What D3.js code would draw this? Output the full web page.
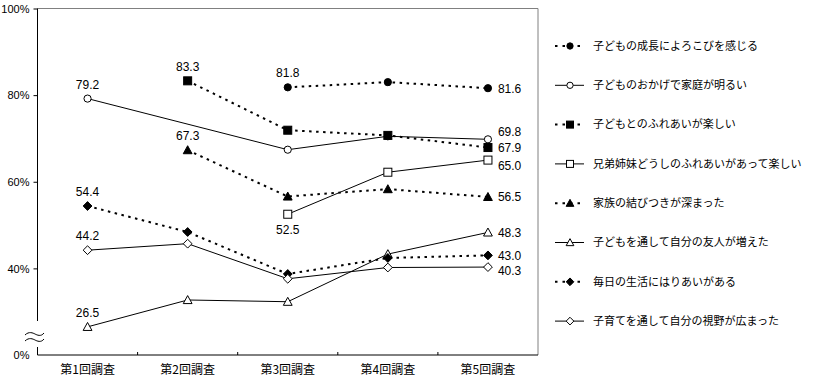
<!DOCTYPE html>
<html><head><meta charset="utf-8">
<script src="https://cdn.jsdelivr.net/npm/d3@7"></script>
<style>
body{margin:0;background:#fff;}
text{font-family:"Noto Sans CJK JP","Noto Sans",sans-serif;fill:#000;}
.num{font-family:"Liberation Sans","DejaVu Sans",sans-serif;}
</style></head>
<body><svg id="chart" width="815" height="380"></svg>
<script>
const categories = ["第1回調査","第2回調査","第3回調査","第4回調査","第5回調査"];
const seriesNames = [
  "子どもの成長によろこびを感じる",
  "子どものおかげで家庭が明るい",
  "子どもとのふれあいが楽しい",
  "兄弟姉妹どうしのふれあいがあって楽しい",
  "家族の結びつきが深まった",
  "子どもを通して自分の友人が増えた",
  "毎日の生活にはりあいがある",
  "子育てを通して自分の視野が広まった"
];
const growthJoy     = [null, null, 81.8, 83.0, 81.6];
const brightHome    = [79.2, null, 67.4, 70.5, 69.8];
const contactFun    = [null, 83.3, 71.9, 70.7, 67.9];
const siblingsFun   = [null, null, 52.5, 62.2, 65.0];
const familyBond    = [null, 67.3, 56.6, 58.3, 56.5];
const moreFriends   = [26.5, 32.7, 32.3, 43.3, 48.3];
const dailyPurpose  = [54.4, 48.4, 38.7, 42.4, 43.0];
const widerView     = [44.2, 45.7, 37.6, 40.2, 40.3];
const seriesValues = [growthJoy, brightHome, contactFun, siblingsFun, familyBond, moreFriends, dailyPurpose, widerView];
const yTickValues = [40, 60, 80, 100];
const yTickLabels = ["40%", "60%", "80%", "100%"];
const yBaseLabel = "0%";

// styles (kept separate from data)
const markerShapes = ["circle","circle","square","square","triangle","triangle","diamond","diamond"];
const markerFilled = [true,false,true,false,true,false,true,false];
const dashed = [true,false,true,false,true,false,true,false];
const firstLabelBelow = [false,false,false,true,false,false,false,false];
const lastLabelDy = [1,-8,0,6,0,0,0,4];

const svg = d3.select("#chart");
const L = 37.5, R = 538, T = 8.5, B = 355;
const x = d3.scaleBand().domain(categories).range([L, R]);
const y = d3.scaleLinear().domain([20, 100]).range([B, T]);
const cx = c => x(c) + x.bandwidth()/2;

// frame: top & right gray
svg.append("line").attr("x1",L).attr("x2",R).attr("y1",T).attr("y2",T).attr("stroke","#808080");
svg.append("line").attr("x1",R).attr("x2",R).attr("y1",T).attr("y2",B).attr("stroke","#808080");

// y axis
const yAxis = d3.axisLeft(y).tickValues(yTickValues).tickSize(4)
  .tickFormat((d,i)=>yTickLabels[i]);
const gy = svg.append("g").attr("transform",`translate(${L},0)`).call(yAxis);
gy.select(".domain").remove();
gy.selectAll("line").attr("stroke","#000");
gy.selectAll("text").attr("class","num").attr("font-size",11).attr("x",-8).attr("dy","0.35em")
  .style("font-family",'"Liberation Sans",sans-serif');
svg.append("text").attr("class","num").attr("x",L-8).attr("y",y(20)).attr("dy","0.35em").attr("text-anchor","end")
  .attr("font-size",11).text(yBaseLabel);
// axis line with break
svg.append("line").attr("x1",L).attr("x2",L).attr("y1",T).attr("y2",321).attr("stroke","#000");
svg.append("line").attr("x1",L).attr("x2",L).attr("y1",347).attr("y2",B).attr("stroke","#000");
[334, 340].forEach(yy=>{
  svg.append("path").attr("d",`M25,${yy+1} C29,${yy-3} 33,${yy-1} 35,${yy} S41,${yy+3} 44,${yy-1}`)
    .attr("fill","none").attr("stroke","#000").attr("stroke-width",1);
});

// x axis
const xAxis = d3.axisBottom(x).tickSize(0).tickPadding(10);
const gx = svg.append("g").attr("transform",`translate(0,${B})`).call(xAxis);
gx.select(".domain").remove();
gx.selectAll("text").attr("font-size",12).style("font-family",'"Noto Sans CJK JP",sans-serif');
svg.append("line").attr("x1",L).attr("x2",R).attr("y1",B).attr("y2",B).attr("stroke","#000");
categories.slice(0,-1).forEach(c=>{
  const bx = x(c)+x.bandwidth();
  svg.append("line").attr("x1",bx).attr("x2",bx).attr("y1",B).attr("y2",B-3).attr("stroke","#000");
});

function marker(g, shape, filled, px, py, s){
  const fill = filled ? "#000" : "#fff";
  let el;
  if(shape==="circle") el = g.append("circle").attr("cx",px).attr("cy",py).attr("r",s*0.45);
  else if(shape==="square") el = g.append("rect").attr("x",px-s/2).attr("y",py-s/2).attr("width",s).attr("height",s);
  else if(shape==="triangle") el = g.append("path").attr("d",`M${px},${py-s*0.55} L${px+s*0.55},${py+s*0.45} L${px-s*0.55},${py+s*0.45} Z`);
  else el = g.append("path").attr("d",`M${px},${py-s*0.55} L${px+s*0.55},${py} L${px},${py+s*0.55} L${px-s*0.55},${py} Z`);
  el.attr("fill",fill).attr("stroke","#000").attr("stroke-width",1);
}

const line = d3.line().x(d=>cx(d.c)).y(d=>y(d.v));
seriesValues.forEach((vals,i)=>{
  const pts = vals.map((v,j)=>({c:categories[j],v})).filter(d=>d.v!==null);
  const g = svg.append("g");
  g.append("path").attr("d",line(pts)).attr("fill","none").attr("stroke","#000")
    .attr("stroke-width",dashed[i]?2:1)
    .attr("stroke-dasharray",dashed[i]?"2.5,4.5":null);
  pts.forEach(d=>marker(g, markerShapes[i], markerFilled[i], cx(d.c), y(d.v), 8));
  const f = pts[0], l = pts[pts.length-1];
  g.append("text").attr("class","num").attr("x",cx(f.c)).attr("y",firstLabelBelow[i]? y(f.v)+20 : y(f.v)-10)
    .attr("text-anchor","middle").attr("font-size",12).text(f.v.toFixed(1));
  g.append("text").attr("class","num").attr("x",cx(l.c)+10).attr("y",y(l.v)+lastLabelDy[i]).attr("dy","0.35em")
    .attr("font-size",12).text(l.v.toFixed(1));
});

// legend
const lg = svg.append("g");
seriesNames.forEach((n,i)=>{
  const ly = 46 + i*39.3;
  lg.append("line").attr("x1",555).attr("x2",584).attr("y1",ly).attr("y2",ly)
    .attr("stroke","#000").attr("stroke-width",dashed[i]?2:1)
    .attr("stroke-dasharray",dashed[i]?"2.5,5":null);
  marker(lg, markerShapes[i], markerFilled[i], 570, ly, 7);
  lg.append("text").attr("x",593).attr("y",ly).attr("dy","0.35em").attr("font-size",11).text(n);
});
</script></body></html>
